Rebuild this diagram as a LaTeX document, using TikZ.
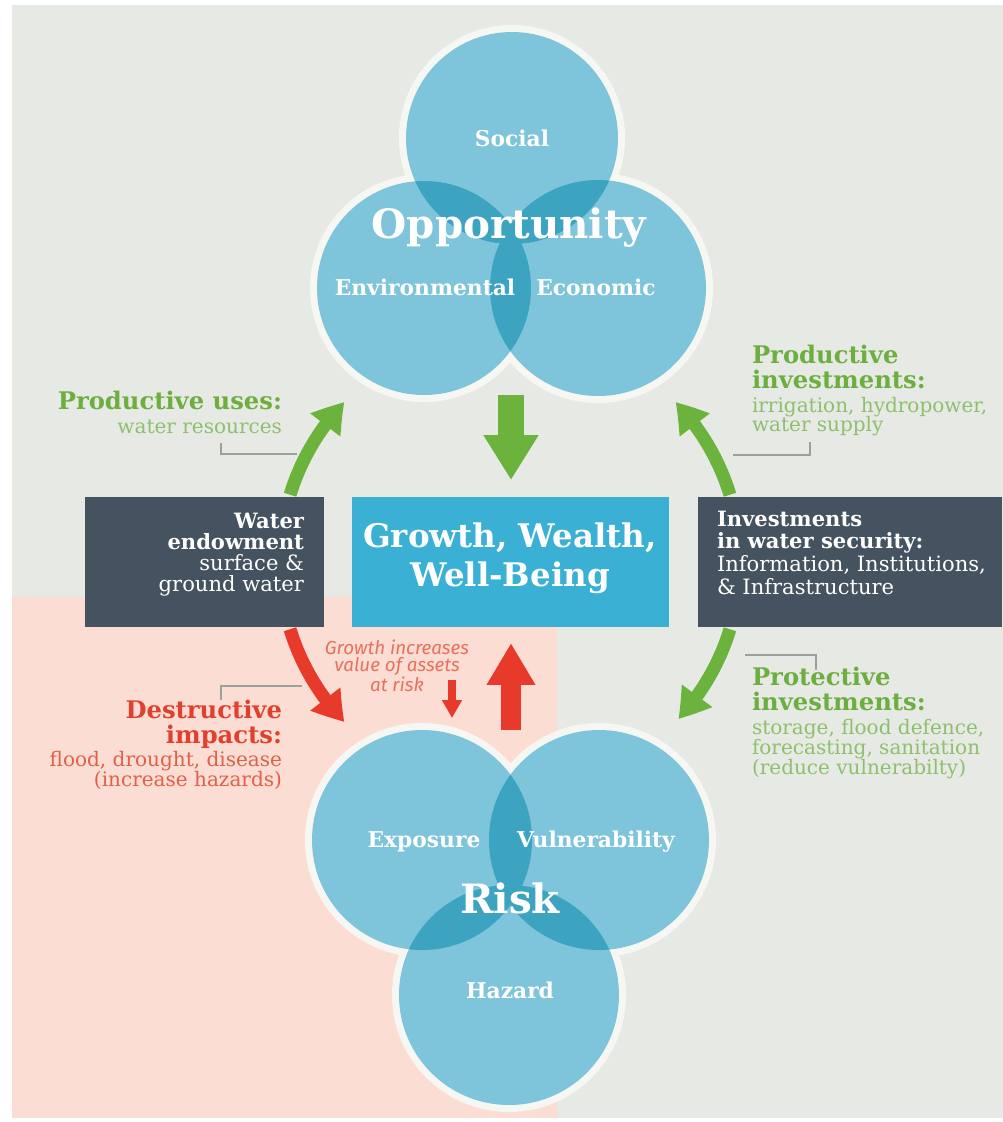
\documentclass[tikz,border=0pt]{standalone}
\usepackage{fontspec}
\setmainfont{DejaVu Serif}
\newfontfamily\gsans{Fira Sans}
\usetikzlibrary{arrows.meta,calc,bending}
\newcommand\fsz[1]{\fontsize{#1}{#1}\selectfont}
\definecolor{bggray}{HTML}{E7EAE4}
\definecolor{bgpink}{HTML}{FBDDD3}
\definecolor{ringc}{HTML}{F6F7F2}
\definecolor{circ}{HTML}{7EC4DB}
\definecolor{ovl}{HTML}{3CA3C0}
\definecolor{cbox}{HTML}{3BB0D5}
\definecolor{dbox}{HTML}{44535F}
\definecolor{garrow}{HTML}{6BB33C}
\definecolor{rarrow}{HTML}{E83A2A}
\definecolor{ghead}{HTML}{6CAE3F}
\definecolor{gbody}{HTML}{8FBF6E}
\definecolor{rhead}{HTML}{E2402E}
\definecolor{rbody}{HTML}{E0604A}
\definecolor{ritalic}{HTML}{E8705E}
\definecolor{leaderc}{HTML}{9AA39A}
\tikzset{
  txt/.style={inner sep=0pt, outer sep=0pt},
  wlbl/.style={txt, text=white, font=\bfseries\fsz{12.4}},
  bigw/.style={txt, text=white, font=\bfseries\fsz{23}},
  boxb/.style={txt, text=white, font=\bfseries\fsz{12}},
  boxr/.style={txt, text=white, font=\fsz{12}},
  headg/.style={txt, text=ghead, font=\bfseries\fsz{13.8}},
  headr/.style={txt, text=rhead, font=\bfseries\fsz{13.8}},
  bodyg/.style={txt, text=gbody, font=\fsz{11.4}},
  bodyr/.style={txt, text=rbody, font=\fsz{11.4}},
  itr/.style={txt, text=ritalic, font=\gsans\itshape\fsz{10.7}},
  arcarrow/.style={line width=7.4pt, -{Triangle[width=20.4pt,length=17pt,bend]}},
  boxnode/.style={rectangle, inner sep=0pt, minimum height=73.7pt},
  leader/.style={draw=leaderc, line width=0.6pt},
}
\begin{document}
\begin{tikzpicture}[x=0.02cm, y=-0.02cm]
\useasboundingbox (0,0) rectangle (1003,1122);
% backgrounds
\fill[bggray] (12,5) rectangle (1003,1118);
\fill[bgpink] (12,597) rectangle (557,1118);

% arcs (behind boxes)
\coordinate (ac) at (510,562);
\coordinate (a1) at ($(ac)+(197:230)$);
\coordinate (a2) at ($(ac)+(343:230)$);
\coordinate (a3) at ($(ac)+(163:230)$);
\coordinate (a4) at ($(ac)+(17:230)$);
\draw[arcarrow, garrow] (a1) arc[start angle=197, end angle=224, radius=230];
\draw[arcarrow, garrow] (a2) arc[start angle=343, end angle=316, radius=230];
\draw[arcarrow, rarrow] (a3) arc[start angle=163, end angle=136, radius=230];
\draw[arcarrow, garrow] (a4) arc[start angle=17, end angle=43, radius=230];

% boxes
\node[boxnode, fill=dbox, minimum width=135.5pt] (lbox) at (204.5,562) {};
\node[boxnode, fill=cbox, minimum width=180.8pt] (cbox) at (510.5,562) {};
\node[boxnode, fill=dbox, minimum width=173.5pt] (rbox) at (850,562) {};

% top Venn
\coordinate (S) at (512,138);
\coordinate (E) at (424,288);
\coordinate (C) at (598,288);
\fill[ringc] (S) circle[radius=113] (E) circle[radius=114] (C) circle[radius=115];
\fill[circ] (S) circle[radius=106] (E) circle[radius=107] (C) circle[radius=108];
\begin{scope}
  \clip (S) circle[radius=106];
  \fill[ovl] (E) circle[radius=107] (C) circle[radius=108];
\end{scope}
\begin{scope}
  \clip (E) circle[radius=107];
  \fill[ovl] (C) circle[radius=108];
\end{scope}

% bottom Venn
\coordinate (X) at (422,840);
\coordinate (V) at (599,840);
\coordinate (H) at (509,995);
\fill[ringc] (X) circle[radius=117] (V) circle[radius=117] (H) circle[radius=117];
\fill[circ] (X) circle[radius=110] (V) circle[radius=110] (H) circle[radius=110];
\begin{scope}
  \clip (X) circle[radius=110];
  \fill[ovl] (V) circle[radius=110] (H) circle[radius=110];
\end{scope}
\begin{scope}
  \clip (V) circle[radius=110];
  \fill[ovl] (H) circle[radius=110];
\end{scope}

% block arrows
\coordinate (oppbot) at (511,395);
\coordinate (riskTop) at (511,730);
\coordinate (sa1) at (452,680);
\coordinate (sa2) at (452,718);
\draw[garrow, line width=15.3pt, -{Triangle[width=29.5pt,length=25.5pt]}, shorten >=9.6pt] (oppbot) -- (oppbot |- cbox.north);
\draw[rarrow, line width=11.3pt, -{Triangle[width=26.1pt,length=23.8pt]}, shorten >=9.1pt] (riskTop) -- (riskTop |- cbox.south);
\draw[rarrow, line width=5.1pt, -{Triangle[width=10.8pt,length=10.2pt]}] (sa1) -- (sa2);

% leader lines
\draw[leader] (221,443) -- (221,454) -- (297,454);
\draw[leader] (733,455) -- (810,455) -- (810,442);
\draw[leader] (221,700) -- (221,686) -- (302,686);
\draw[leader] (745,655) -- (816,655) -- (816,670);

% Venn labels
\node[wlbl] (social) at (512,138) {Social};
\node[bigw] (opp) at (509,228) {Opportunity};
\node[wlbl] (env) at (425,287) {Environmental};
\node[wlbl] (eco) at (596,287) {Economic};
\node[wlbl] (expo) at (424,842) {Exposure};
\node[wlbl] (vuln) at (596,842) {Vulnerability};
\node[bigw] (risk) at (510,898) {Risk};
\node[wlbl] (haz) at (510,990) {Hazard};

% center box text
\node[txt, text=white, font=\bfseries\fsz{18.5}, anchor=mid] (g1) at (510,543) {Growth, Wealth,};
\node[txt, text=white, font=\bfseries\fsz{18.5}, anchor=mid] (g2) at (510,582) {Well-Being};

% left box text
\node[boxb, anchor=mid east] (lw1) at (304,524) {Water};
\node[boxb, anchor=mid east] (lw2) at (304,545) {endowment};
\node[boxr, anchor=mid east] (lw3) at (304,566) {surface \&};
\node[boxr, anchor=mid east] (lw4) at (304,587) {ground water};

% right box text
\node[boxb, anchor=mid west] (rw1) at (717,522) {Investments};
\node[boxb, anchor=mid west] (rw2) at (717,544) {in water security:};
\node[boxr, anchor=mid west] (rw3) at (717,567) {Information, Institutions,};
\node[boxr, anchor=mid west] (rw4) at (717,590) {\& Infrastructure};

% productive uses
\node[headg, anchor=mid east] (pu1) at (282,405) {Productive uses:};
\node[bodyg, anchor=mid east] (pu2) at (282,429) {water resources};

% productive investments
\node[headg, anchor=mid west] (pi1) at (752,359) {Productive};
\node[headg, anchor=mid west] (pi2) at (752,384) {investments:};
\node[bodyg, anchor=mid west] (pi3) at (752,408) {irrigation, hydropower,};
\node[bodyg, anchor=mid west] (pi4) at (752,427) {water supply};

% destructive impacts
\node[headr, anchor=mid east] (di1) at (282,714) {Destructive};
\node[headr, anchor=mid east] (di2) at (282,739) {impacts:};
\node[bodyr, anchor=mid east] (di3) at (282,762) {flood, drought, disease};
\node[bodyr, anchor=mid east] (di4) at (282,782) {(increase hazards)};

% protective investments
\node[headg, anchor=mid west] (pr1) at (752,681) {Protective};
\node[headg, anchor=mid west] (pr2) at (752,706) {investments:};
\node[bodyg, anchor=mid west] (pr3) at (752,730) {storage, flood defence,};
\node[bodyg, anchor=mid west] (pr4) at (752,750) {forecasting, sanitation};
\node[bodyg, anchor=mid west] (pr5) at (752,770) {(reduce vulnerabilty)};

% growth increases
\node[itr] (gi1) at (397,647) {Growth increases};
\node[itr] (gi2) at (397,666) {value of assets};
\node[itr] (gi3) at (397,684) {at risk};
\end{tikzpicture}
\end{document}
